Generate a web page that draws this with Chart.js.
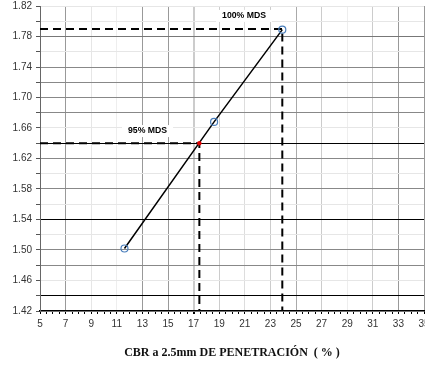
<!DOCTYPE html>
<html>
<head>
<meta charset="utf-8">
<script src="https://cdn.jsdelivr.net/npm/chart.js@4/dist/chart.umd.min.js"></script>
<style>
  html, body { margin: 0; padding: 0; background: #fff; }
  #wrap { width: 425px; height: 365px; }
</style>
</head>
<body>
<div id="wrap"><canvas id="cbr"></canvas></div>
<script>
// CBR test points
var cbrValues = [11.6, 18.6, 23.93];
var densityValues = [1.502, 1.668, 1.789];

// MDS reference lines
var mdsLabels = ['100% MDS', '95% MDS'];
var mdsCbr = [23.93, 17.45];
var mdsDensity = [1.79, 1.64];
var labelCbr = [20.94, 13.4];
var labelDensity = [1.807, 1.656];

var xMin = 5, xMax = 35;
var yMin = 1.42, yMax = 1.82;

// shade of the grid lines, like the original sheet
var xGridShade = { 7: '#999', 9: '#e6e6e6', 11: '#eee', 13: '#999', 15: '#999', 17: '#ccc',
  19: '#ccc', 21: '#ddd', 23: '#ccc', 25: '#aaa', 27: '#ccc', 29: '#eee', 31: '#ccc', 33: '#999', 35: '#999' };
var yGridShade = { 144: '#000', 154: '#000', 164: '#000', 178: '#777', 174: '#888', 172: '#888',
  170: '#888', 168: '#888', 162: '#888', 158: '#888', 150: '#888', 148: '#888' };

var points = cbrValues.map(function (c, i) { return { x: c, y: densityValues[i] }; });

function dashedLine(i) {
  return {
    data: [{ x: xMin, y: mdsDensity[i] }, { x: mdsCbr[i], y: mdsDensity[i] }, { x: mdsCbr[i], y: yMin }],
    showLine: true,
    borderColor: '#000',
    borderWidth: 2,
    borderDash: [8, 5],
    pointRadius: 0,
    fill: false,
    order: 3
  };
}

var labelBoxes = {
  id: 'labelBoxes',
  beforeDatasetsDraw: function (chart) {
    var ctx = chart.ctx;
    ctx.save();
    ctx.font = 'bold 8.7px "Liberation Sans", Arial, sans-serif';
    ctx.textAlign = 'center';
    ctx.textBaseline = 'middle';
    mdsLabels.forEach(function (txt, i) {
      var px = chart.scales.x.getPixelForValue(labelCbr[i]);
      var py = chart.scales.y.getPixelForValue(labelDensity[i]);
      var w = ctx.measureText(txt).width;
      ctx.fillStyle = '#fff';
      ctx.fillRect(px - w / 2 - 6, py - 6, w + 12, 12);
      ctx.fillStyle = '#000';
      ctx.fillText(txt, px, py);
    });
    ctx.restore();
  }
};

new Chart(document.getElementById('cbr'), {
  type: 'scatter',
  data: {
    datasets: [
      dashedLine(0),
      dashedLine(1),
      {
        data: points,
        showLine: true,
        borderColor: '#000',
        borderWidth: 1.5,
        pointRadius: 3.5,
        pointBorderColor: '#4a7ebb',
        pointBackgroundColor: 'rgba(255,255,255,0)',
        pointBorderWidth: 1.2,
        order: 2
      },
      {
        data: [{ x: mdsCbr[1], y: mdsDensity[1] }],
        pointRadius: 2.2,
        pointBorderWidth: 0,
        pointBackgroundColor: '#e00000',
        order: 1
      }
    ]
  },
  options: {
    responsive: true,
    maintainAspectRatio: false,
    animation: false,
    layout: { autoPadding: false, padding: { top: 6, right: 1, left: 0, bottom: 0 } },
    plugins: { legend: { display: false }, tooltip: { enabled: false } },
    scales: {
      x: {
        type: 'linear',
        min: xMin,
        max: xMax,
        afterFit: function (s) { s.height = 54; s.paddingLeft = 0; s.paddingRight = 0; },
        border: { color: '#000', width: 1.5 },
        grid: {
          color: function (c) {
            var v = c.tick.value;
            if (Math.round(v * 2) % 4 !== 2) return 'rgba(0,0,0,0)';
            return xGridShade[Math.round(v)] || 'rgba(0,0,0,0)';
          },
          lineWidth: function (c) { return Math.round(c.tick.value * 2) === 34 ? 2 : 1; },
          tickColor: '#000',
          tickLength: 3
        },
        ticks: {
          stepSize: 0.5,
          autoSkip: false,
          maxRotation: 0,
          padding: 4,
          color: '#333',
          font: { family: '"Liberation Sans", Arial, sans-serif', size: 10 },
          callback: function (v) { return Math.round(v * 2) % 4 === 2 ? String(v) : ''; }
        },
        title: {
          display: true,
          text: 'CBR a 2.5mm DE PENETRACIÓN  ( % )',
          color: '#111',
          font: { family: '"Liberation Serif", "Times New Roman", serif', size: 12, weight: 'bold' },
          padding: { top: 0, bottom: 5 }
        }
      },
      y: {
        type: 'linear',
        min: yMin,
        max: yMax,
        afterFit: function (s) { s.width = 40; s.paddingTop = 0; s.paddingBottom = 0; },
        border: { color: '#666', width: 1 },
        grid: {
          color: function (c) {
            return yGridShade[Math.round(c.tick.value * 100)] || '#e6e6e6';
          },
          tickColor: '#555',
          tickLength: 4
        },
        ticks: {
          stepSize: 0.02,
          autoSkip: false,
          padding: 4,
          color: '#333',
          font: { family: '"Liberation Sans", Arial, sans-serif', size: 10 },
          callback: function (v) { return Math.round(v * 100) % 4 === 2 ? v.toFixed(2) : ''; }
        }
      }
    }
  },
  plugins: [labelBoxes]
});
</script>
</body>
</html>
